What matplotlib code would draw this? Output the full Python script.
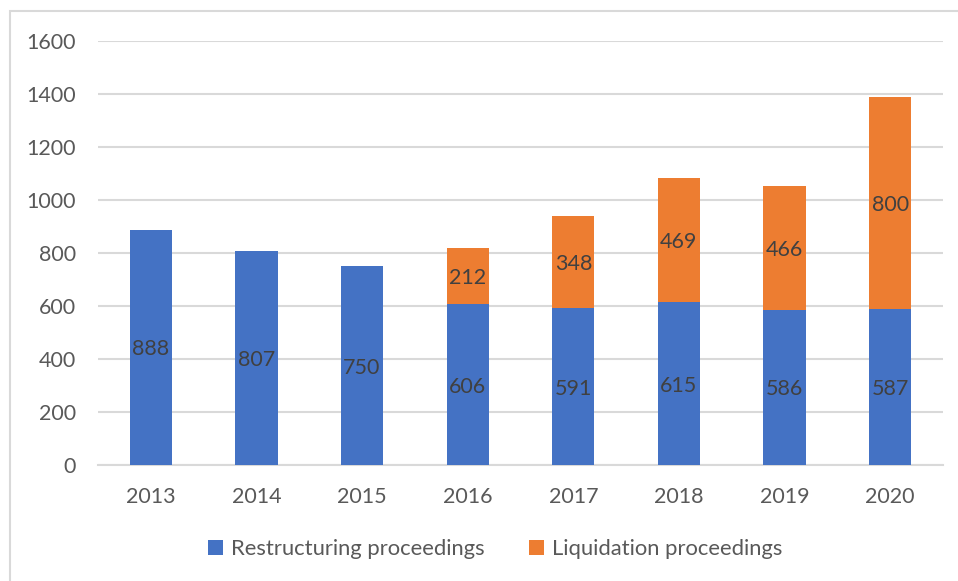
import numpy as np
import matplotlib
matplotlib.use("Agg")
import matplotlib.pyplot as plt
from matplotlib.patches import Rectangle

years = ["2013", "2014", "2015", "2016", "2017", "2018", "2019", "2020"]
restructuring = [888, 807, 750, 606, 591, 615, 586, 587]
liquidation = [0, 0, 0, 212, 348, 469, 466, 800]
yticks = [0, 200, 400, 600, 800, 1000, 1200, 1400, 1600]

blue = "#4472C4"
orange = "#ED7D31"
grid_c = "#D9D9D9"
fs = 15.5

plt.rcParams['font.family'] = ['Lato', 'DejaVu Sans']

fig = plt.figure(figsize=(9.58, 5.81), dpi=100)
fig.patches.append(Rectangle((10 / 958, -0.1), 1.2, 1 - 11 / 581 + 0.1,
                             transform=fig.transFigure, fill=False,
                             edgecolor=grid_c, linewidth=1.5))
ax = fig.add_axes([98 / 958, 1 - 465 / 581, (943 - 98) / 958, (465 - 41) / 581])

x = np.arange(len(years))
w = 0.4
b1 = ax.bar(x, restructuring, w, color=blue, label="Restructuring proceedings", zorder=3)
b2 = ax.bar(x, liquidation, w, bottom=restructuring, color=orange,
            label="Liquidation proceedings", zorder=3)

for i in range(len(years)):
    ax.text(x[i], restructuring[i] / 2, str(restructuring[i]), ha="center",
            va="center_baseline", fontsize=fs, color="#404040", zorder=4)
    if liquidation[i] > 0:
        ax.text(x[i], restructuring[i] + liquidation[i] / 2, str(liquidation[i]),
                ha="center", va="center_baseline", fontsize=fs, color="#404040", zorder=4)

ax.set_xlim(-0.5, len(years) - 0.5)
ax.set_ylim(0, 1600)
ax.set_yticks(yticks)
ax.set_xticks(x)
ax.set_xticklabels(years)
ax.tick_params(length=0, labelsize=fs, labelcolor="#595959")
ax.tick_params(axis="y", pad=16)
ax.tick_params(axis="x", pad=16)
ax.yaxis.grid(True, color=grid_c, linewidth=1.5, zorder=0)
for s in ["top", "right", "left"]:
    ax.spines[s].set_visible(False)
ax.spines["bottom"].set_color(grid_c)
ax.spines["bottom"].set_linewidth(1.5)

leg = fig.legend(handles=[b1, b2], loc="center", bbox_to_anchor=(495 / 958, 1 - 549 / 581),
                 ncol=2, frameon=False, fontsize=fs + 0.3, handlelength=0.7, handleheight=0.7,
                 handletextpad=0.35, columnspacing=2.0)
for t in leg.get_texts():
    t.set_color("#595959")

fig.savefig("out.png", dpi=100)
